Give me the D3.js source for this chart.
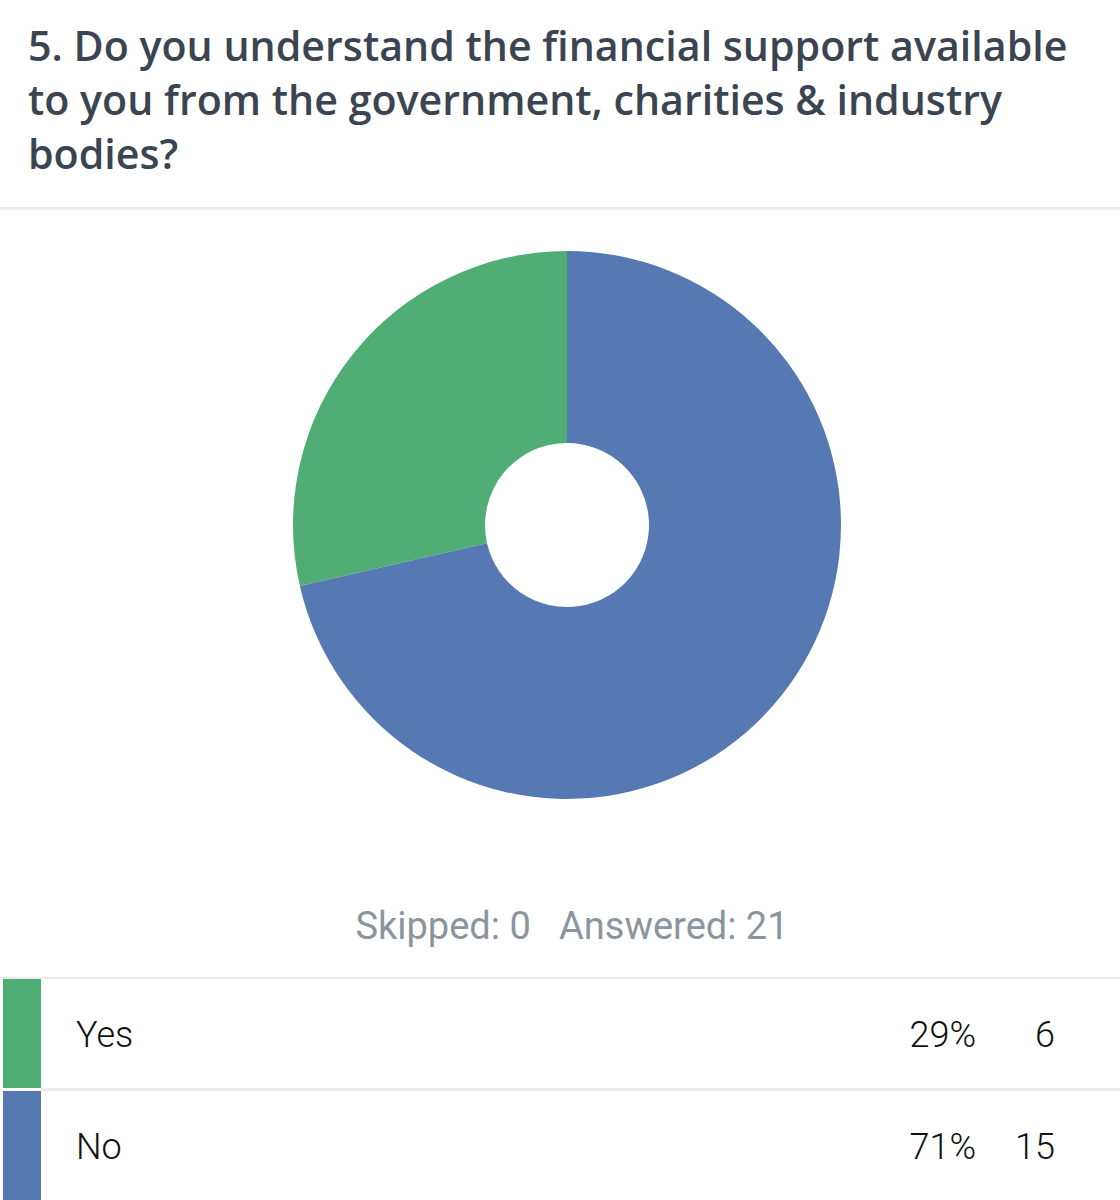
<!DOCTYPE html>
<html>
<head>
<meta charset="utf-8">
<script src="https://cdn.jsdelivr.net/npm/d3@7"></script>
<style>
	body { margin: 0; background: #fff; }
	svg { display: block; }
</style>
</head>
<body>
<script>
// survey answers (table order)
var answers = ["Yes", "No"],
	counts = [6, 15],
	percents = ["29%", "71%"],
	colors = ["#50ae74", "#5679b3"];

var titleLines = [
	"5. Do you understand the financial support available",
	"to you from the government, charities & industry",
	"bodies?"
];
var skipped = 0,
	answered = 21;

var width = 1120,
	height = 1200;

var data = answers.map(function(a, i) {
	return {"label": a, "count": counts[i], "pct": percents[i], "color": colors[i]};
});

var svg = d3.select("body").append("svg")
	.attr("width", width)
	.attr("height", height);

//////////////
// title
//////////////
var title = svg.append("g").attr("class", "title");
title.selectAll("text")
	.data(titleLines).enter()
		.append("text")
		.attr("x", 28)
		.attr("y", function(d, i) { return 61 + i * 54; })
		.style("font-family", "'Open Sans', sans-serif")
		.style("font-weight", 600)
		.style("font-size", "40px")
		.style("fill", "#3b4551")
		.text(function(d) { return d; });

// fit first line to the reference width
var first = title.select("text").node();
var w = first.getComputedTextLength();
var fs = 40 * 1040 / w;
title.selectAll("text").style("font-size", fs + "px");

svg.append("rect")
	.attr("x", 0).attr("y", 207)
	.attr("width", width).attr("height", 3)
	.style("fill", "#ebebeb");

//////////////
// donut
//////////////
var pie = d3.pie().value(function(d) { return d.count; });
var arc = d3.arc().innerRadius(82).outerRadius(274);

svg.append("g")
	.attr("transform", "translate(567,525)")
	.selectAll("path")
	.data(pie(data)).enter()
		.append("path")
		.attr("d", arc)
		.style("fill", function(d) { return d.data.color; });

//////////////
// summary
//////////////
svg.append("text")
	.attr("x", 572)
	.attr("y", 939)
	.style("text-anchor", "middle")
	.style("font-family", "Roboto, sans-serif")
	.style("font-size", "38px")
	.style("fill", "#8c959e")
	.attr("xml:space", "preserve")
	.text("Skipped: " + skipped + "   Answered: " + answered);

//////////////
// table
//////////////
var rowTop = 977,
	rowH = 112;

svg.append("rect")
	.attr("x", 0).attr("y", rowTop)
	.attr("width", width).attr("height", 2)
	.style("fill", "#ebebeb");

var rows = svg.selectAll("g.row")
	.data(data).enter()
		.append("g")
		.attr("class", "row")
		.attr("transform", function(d, i) { return "translate(0," + (rowTop + 2 + i * rowH) + ")"; });

rows.append("rect")
	.attr("x", 3).attr("y", 0)
	.attr("width", 38).attr("height", 109)
	.style("fill", function(d) { return d.color; });

rows.append("rect")
	.attr("x", 41).attr("y", 109)
	.attr("width", width - 41).attr("height", 3)
	.style("fill", function(d, i) { return i < data.length - 1 ? "#ebebeb" : "none"; });

var rowText = function(sel) {
	return sel.style("font-family", "Roboto, sans-serif")
		.style("font-weight", 300)
		.style("font-size", "36px")
		.style("fill", "#111");
};

rows.append("text")
	.attr("x", 76).attr("y", 68)
	.call(rowText)
	.text(function(d) { return d.label; });

rows.append("text")
	.attr("x", 976).attr("y", 68)
	.style("text-anchor", "end")
	.call(rowText)
	.text(function(d) { return d.pct; });

rows.append("text")
	.attr("x", 1055).attr("y", 68)
	.style("text-anchor", "end")
	.call(rowText)
	.text(function(d) { return d.count; });
</script>
</body>
</html>
